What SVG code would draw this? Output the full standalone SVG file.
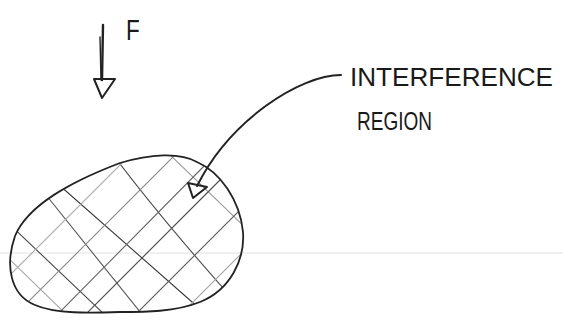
<svg xmlns="http://www.w3.org/2000/svg" width="563" height="328" viewBox="0 0 563 328">
<style>
.ink{fill:none;stroke:#222;stroke-linecap:round;stroke-linejoin:round}
.hatch{fill:none;stroke-linecap:round;stroke-width:1.1}
.txt{font-family:"Liberation Sans",Arial,sans-serif;fill:#1a1a1a}
</style>
<defs>
<clipPath id="blobClip">
<path d="M15,236 C28,205 70,182 120,163 C150,154 180,152 197,162 C220,172 240,200 243,232 C245,260 230,290 200,302 C175,312 145,312 120,312 C90,313 55,314 35,305 C10,295 5,265 15,236 Z"/>
</clipPath>
</defs>
<rect width="563" height="328" fill="#fff"/>
<line x1="0" y1="253" x2="563" y2="253" stroke="#e2e2e2" stroke-width="1.2"/>
<g id="force">
<line class="ink" x1="103" y1="25" x2="102" y2="80" stroke-width="2.4"/>
<line class="ink" x1="100" y1="37" x2="101" y2="80" stroke-width="1.4"/>
<path class="ink" d="M94,79 L115,79 L102,98 Z" stroke-width="2"/>
<text class="txt" x="126" y="40" font-size="30" transform="translate(126 40) scale(0.75 1) translate(-126 -40)">F</text>
</g>
<g id="region">
<g clip-path="url(#blobClip)">
<line class="hatch" x1="0" y1="250" x2="70" y2="318" stroke="#a8a8a8"/>
<line class="hatch" x1="5" y1="220" x2="105" y2="315" stroke="#4a4a4a"/>
<line class="hatch" x1="38" y1="185" x2="145" y2="318" stroke="#555"/>
<line class="hatch" x1="50" y1="177" x2="200" y2="309" stroke="#3a3a3a" stroke-width="1.4"/>
<path class="hatch" d="M108,148 Q160,218 240,307" stroke="#4a4a4a"/>
<line class="hatch" x1="165" y1="150" x2="250" y2="232" stroke="#999"/>
<line class="hatch" x1="0" y1="285" x2="140" y2="145" stroke="#a8a8a8"/>
<line class="hatch" x1="10" y1="320" x2="180" y2="150" stroke="#8a8a8a"/>
<line class="hatch" x1="52" y1="320" x2="210" y2="160" stroke="#666"/>
<line class="hatch" x1="80" y1="320" x2="240" y2="160" stroke="#4a4a4a"/>
<line class="hatch" x1="130" y1="320" x2="250" y2="200" stroke="#555"/>
<line class="hatch" x1="180" y1="315" x2="250" y2="245" stroke="#a0a0a0"/>
</g>
<path class="ink" stroke="#2a2a2a" stroke-width="1.8" d="M15,236 C28,205 70,182 120,163 C150,154 180,152 197,162 C220,172 240,200 243,232 C245,260 230,290 200,302 C175,312 145,312 120,312 C90,313 55,314 35,305 C10,295 5,265 15,236 Z"/>
</g>
<g id="label">
<text class="txt" x="350" y="86" font-size="25" textLength="203" lengthAdjust="spacingAndGlyphs">INTERFERENCE</text>
<text class="txt" x="357" y="130" font-size="25" textLength="75" lengthAdjust="spacingAndGlyphs">REGION</text>
</g>
<g id="connectors">
<path class="ink" stroke-width="2" d="M341,75 C300,75 230,120 197,186"/>
<path class="ink" stroke-width="2" d="M188,183 L207,187 L193,198 Z"/>
</g>
</svg>
